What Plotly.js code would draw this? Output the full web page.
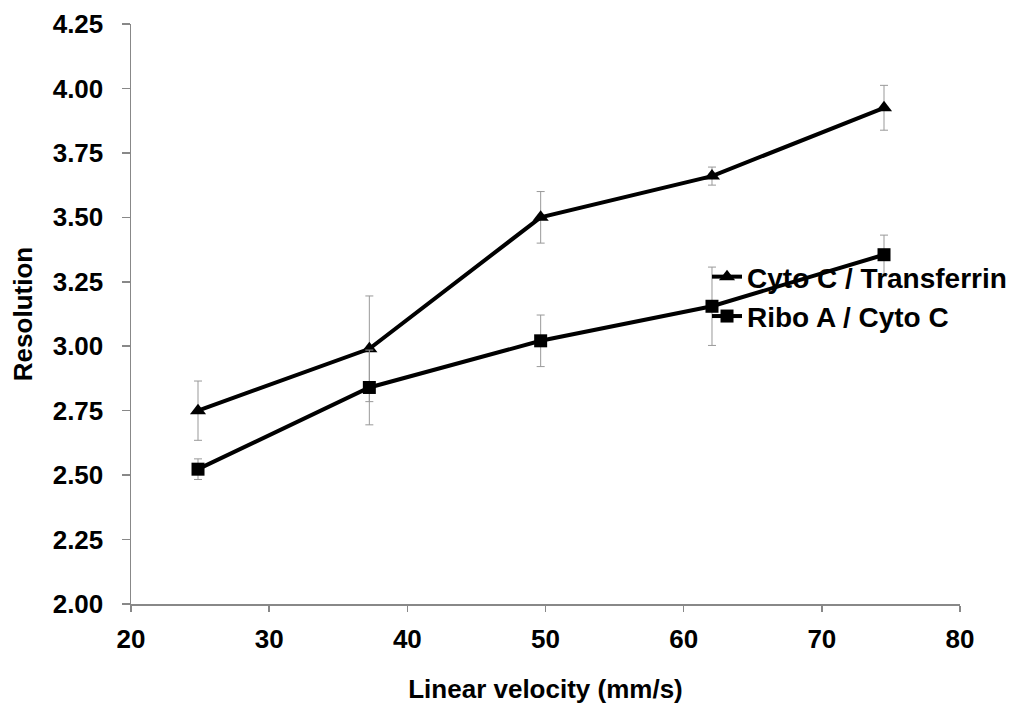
<!DOCTYPE html>
<html>
<head>
<meta charset="utf-8">
<script src="https://cdn.plot.ly/plotly-3.0.1.min.js"></script>
<style>html,body{margin:0;padding:0;background:#fff;}#chart{width:1023px;height:704px;}</style>
</head>
<body>
<div id="chart"></div>
<script>
const velocity = [24.85, 37.25, 49.65, 62.05, 74.5];
const cytoTransferrin = [2.75, 2.99, 3.50, 3.66, 3.925];
const cytoTransferrinErr = [0.115, 0.205, 0.10, 0.035, 0.087];
const riboCyto = [2.523, 2.84, 3.021, 3.155, 3.355];
const riboCytoErr = [0.04, 0.145, 0.10, 0.152, 0.076];
const seriesNames = ["Cyto C / Transferrin", "Ribo A / Cyto C"];
const xTicks = [20, 30, 40, 50, 60, 70, 80];
const yTicks = [2.00, 2.25, 2.50, 2.75, 3.00, 3.25, 3.50, 3.75, 4.00, 4.25];

const font = "Liberation Sans, Arial, sans-serif";
const errStyle = {type: 'data', visible: true, color: '#999999', thickness: 1, width: 4};

const traces = [
  {
    x: velocity, y: cytoTransferrin, name: '<b>' + seriesNames[0] + '</b>', legendgroup: 'a',
    mode: 'lines+markers', type: 'scatter',
    line: {color: '#000', width: 4},
    marker: {symbol: 'triangle-up', size: 14, color: '#000'},
    error_y: Object.assign({array: cytoTransferrinErr}, errStyle)
  },
  {
    x: velocity, y: riboCyto, name: '<b>' + seriesNames[1] + '</b>', legendgroup: 'b',
    mode: 'lines+markers', type: 'scatter',
    line: {color: '#000', width: 4},
    marker: {symbol: 'square', size: 13, color: '#000'},
    error_y: Object.assign({array: riboCytoErr}, errStyle)
  }
];

const layout = {
  width: 1023, height: 704,
  margin: {l: 131, r: 62, t: 24, b: 100},
  paper_bgcolor: '#fff', plot_bgcolor: '#fff',
  font: {family: font, color: '#000', size: 26},
  showlegend: true,
  legend: {
    x: 0.694, y: 0.607, xanchor: 'left', yanchor: 'top',
    font: {family: font, size: 28, color: '#000'},
    bgcolor: 'rgba(0,0,0,0)', traceorder: 'grouped', tracegroupgap: 0,
    itemwidth: 30
  },
  xaxis: {
    range: [20, 80], tickvals: xTicks, ticktext: xTicks.map(v => '<b>' + v + '</b>'),
    showgrid: false, zeroline: false,
    showline: true, linecolor: '#888', linewidth: 1.5,
    ticks: 'outside', ticklen: 6, tickcolor: '#888', tickwidth: 1.5,
    ticklabelstandoff: 5,
    tickfont: {family: font, size: 26, color: '#000'},
    title: {text: '<b>Linear velocity (mm/s)</b>', standoff: 27,
            font: {family: font, size: 26, color: '#000'}}
  },
  yaxis: {
    range: [2, 4.25], tickvals: yTicks, ticktext: yTicks.map(v => '<b>' + v.toFixed(2) + '</b>'),
    showgrid: false, zeroline: false,
    showline: true, linecolor: '#888', linewidth: 1.5,
    ticks: 'outside', ticklen: 8, tickcolor: '#888', tickwidth: 1.5,
    ticklabelstandoff: 13,
    tickfont: {family: font, size: 26, color: '#000'},
    title: {text: '<b>Resolution</b>', standoff: 12,
            font: {family: font, size: 26, color: '#000'}}
  }
};

Plotly.newPlot('chart', traces, layout, {displayModeBar: false, staticPlot: true});
</script>
</body>
</html>
